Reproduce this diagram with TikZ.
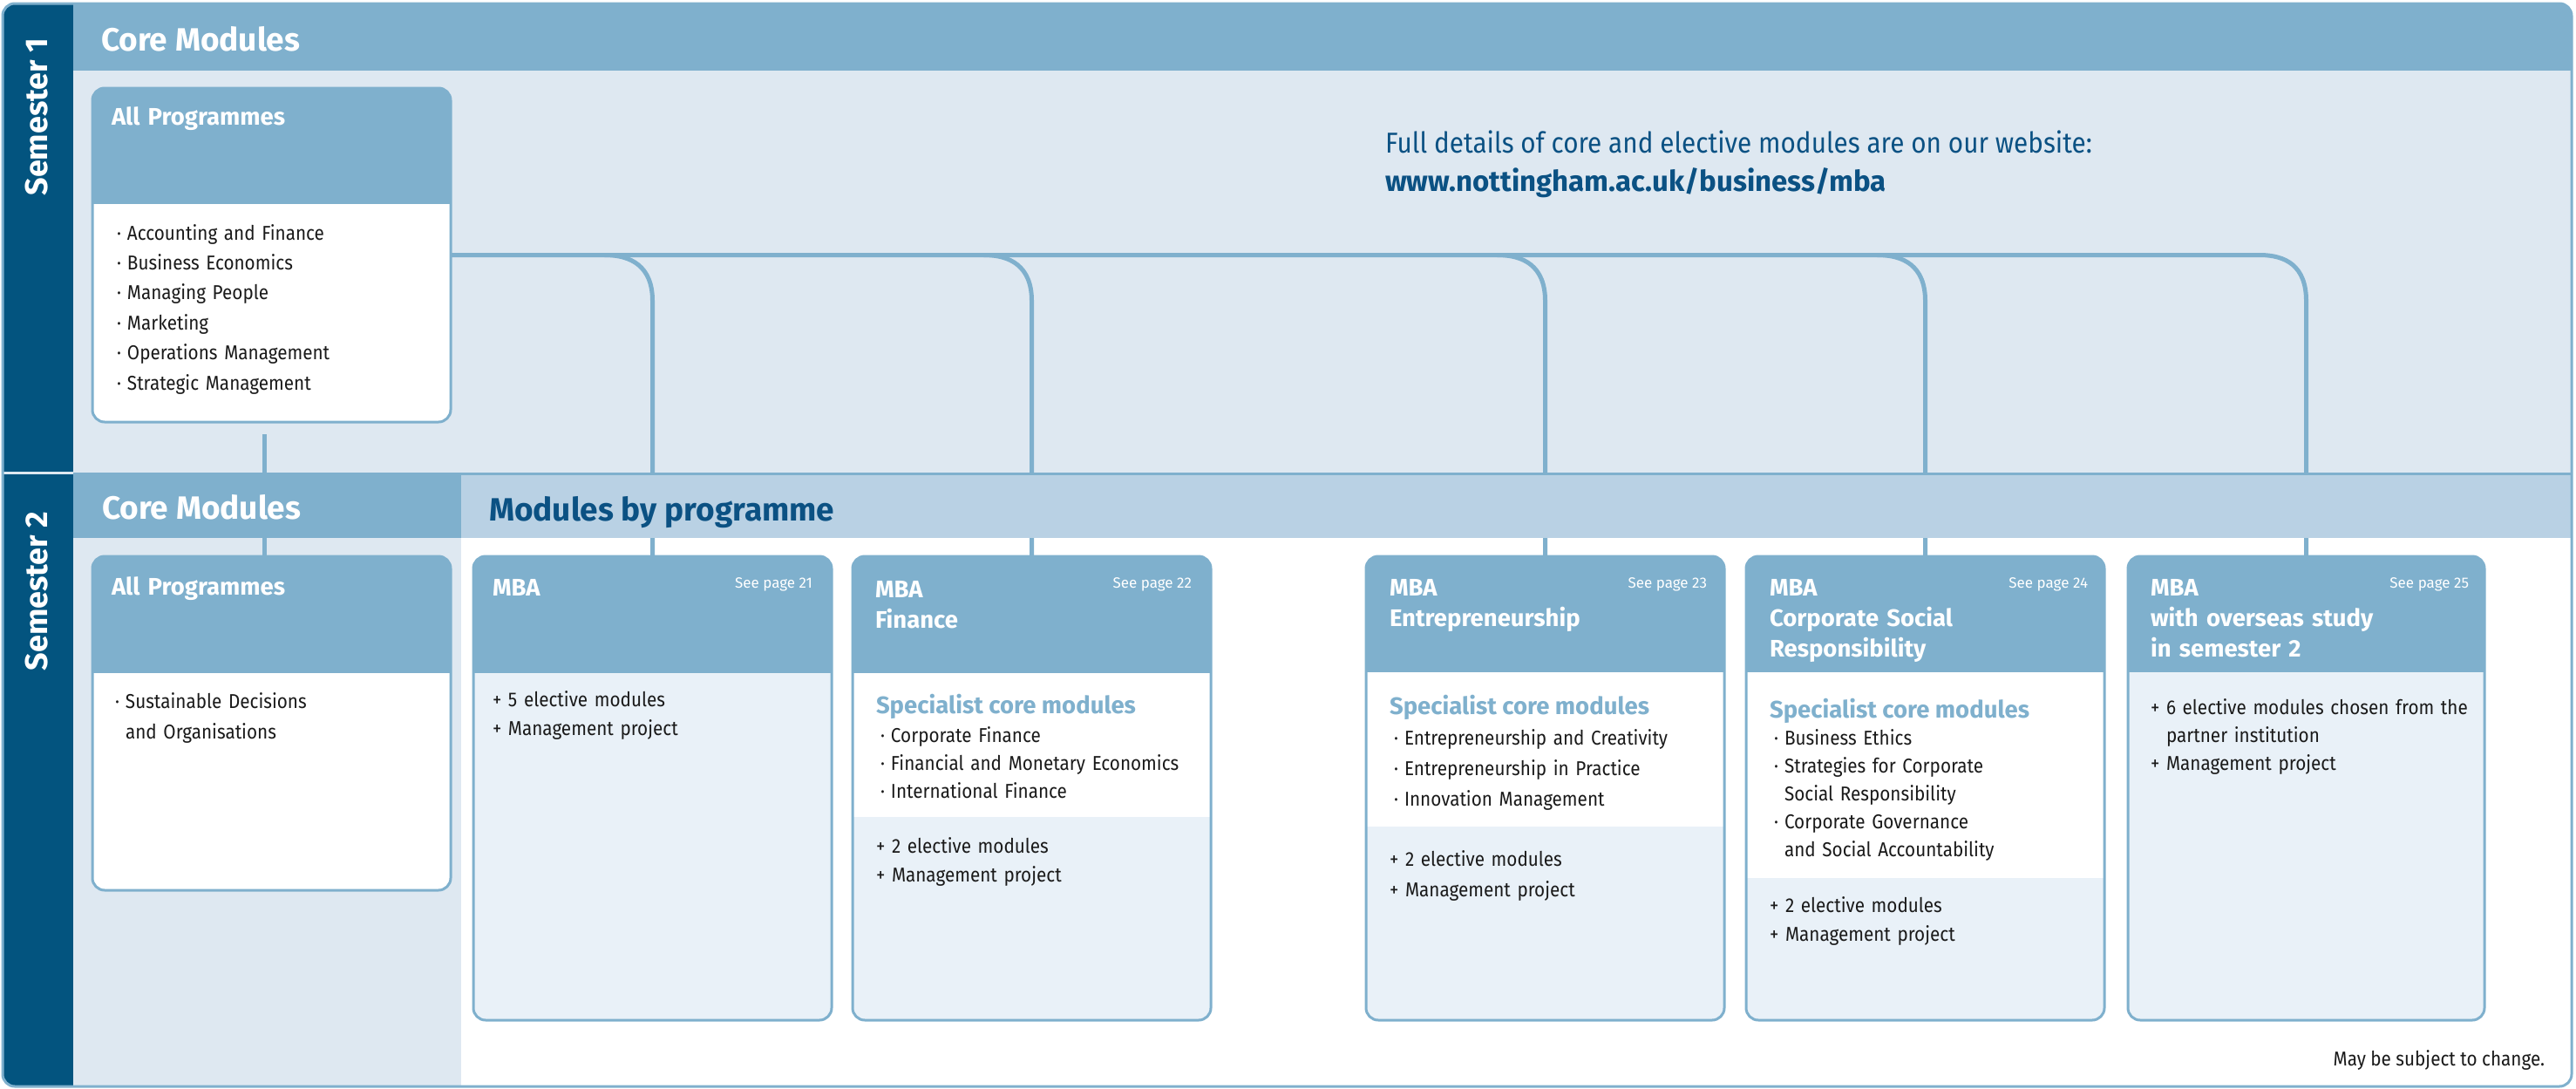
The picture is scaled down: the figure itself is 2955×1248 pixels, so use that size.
\documentclass[tikz,border=0pt]{standalone}
\usepackage{fontspec}
\setmainfont{Fira Sans}
\newfontfamily\regn{Fira Sans}[FakeStretch=0.9]
\usetikzlibrary{fit}
\definecolor{darkc}{HTML}{03547F}
\definecolor{midc}{HTML}{7FB0CD}
\definecolor{lightc}{HTML}{DEE8F1}
\definecolor{bandc}{HTML}{B9D1E4}
\definecolor{bodyc}{HTML}{E9F1F8}
\definecolor{navyc}{HTML}{0B5183}
\definecolor{txtc}{HTML}{1A1A1A}
\newcommand\bl{\makebox[12pt][l]{·}}
\newcommand\ind{\hspace*{12pt}}
\newcommand\pl{\makebox[18pt][l]{+}}
\newcommand\pbox[7]{%
  \begin{scope}
    \clip[rounded corners=14pt] (#2,#3) rectangle (#4,#5);
    \fill[bodyc] (#2,#3) rectangle (#4,#5);
    \fill[white] (#2,#6) rectangle (#4,#7);
    \fill[midc] (#2,#3) rectangle (#4,#6);
  \end{scope}
  \node[boxframe, fit={(#2,#3) (#4,#5)}] (#1) {};
}
\begin{document}
\begin{tikzpicture}[x=1pt, y=-1pt,
  every node/.style={inner sep=0pt, outer sep=0pt},
  boxframe/.style={draw=midc, line width=3pt, rounded corners=14pt},
  conn/.style={draw=midc, line width=5pt},
  body/.style={anchor=base west, align=left, text width=400pt, text=txtc, font=\regn\fontsize{23}{33}\selectfont},
  hd/.style={anchor=base west, align=left, text width=400pt, text=white, font=\bfseries\fontsize{27.5}{35}\selectfont},
  seep/.style={anchor=base east, text=white, font=\fontsize{17}{20}\selectfont},
  spec/.style={anchor=base west, text=midc, font=\bfseries\fontsize{27.5}{30}\selectfont},
  bandtxt/.style={anchor=base west, font=\bfseries\fontsize{37}{40}\selectfont},
  sem/.style={rotate=90, anchor=center, text=white, font=\bfseries\fontsize{36}{38}\selectfont}]
\useasboundingbox (0,0) rectangle (2955,1248);
% ---------- backgrounds ----------
\begin{scope}
  \clip[rounded corners=14pt] (3,4) rectangle (2950,1246);
  \fill[lightc] (84,81) rectangle (2950,543);
  \fill[midc] (84,0) rectangle (2950,81);
  \fill[white] (529,617) rectangle (2950,1246);
  \fill[lightc] (84,617) rectangle (529,1246);
\end{scope}
% ---------- boxes ----------
\pbox{sa}{106}{101}{517}{484}{234}{484}
\pbox{sb}{106}{638}{517}{1021}{772}{1021}
\pbox{mba}{543}{638}{954}{1170}{772}{772}
\pbox{fin}{978}{638}{1389}{1170}{772}{937}
\pbox{ent}{1567}{638}{1978}{1170}{771}{948}
\pbox{csr}{2003}{638}{2414}{1170}{771}{1007}
\pbox{ovs}{2441}{638}{2850}{1170}{771}{771}
% ---------- connectors ----------
\coordinate (tapA) at (303,498);
\draw[conn] (tapA) -- (sb.north -| tapA);
\draw[conn] (sa.east) -- (2592,292.5) .. controls (2622,292.5) and (2645.5,305) .. (2645.5,345) -- (ovs.north);
\foreach \b/\x in {mba/748.5, fin/1183.5, ent/1772.5, csr/2208.5}{
  \draw[conn] (\x-55,292.5) .. controls (\x-25,292.5) and (\x,305) .. (\x,345) -- (\b.north);
}
% ---------- semester 2 bands ----------
\fill[midc] (84,543) rectangle (529,617);
\fill[bandc] (529,543) rectangle (2950,617);
\draw[midc, line width=3pt] (84,543) -- (2950,543);
% ---------- left dark band ----------
\begin{scope}
  \clip[rounded corners=14pt] (3,4) rectangle (2950,1246);
  \fill[darkc] (0,0) rectangle (84,1248);
  \fill[lightc] (0,541) rectangle (84,544);
\end{scope}
\draw[midc, line width=3pt, rounded corners=14pt] (3,4) rectangle (2950,1246);
% ---------- texts ----------
\node[sem] (s1) at (42,134) {Semester 1};
\node[sem] (s2) at (42,678) {Semester 2};
\node[bandtxt, text=white] (h1) at (116,58) {Core Modules};
\node[bandtxt, text=white] (h2) at (117,595) {Core Modules};
\node[bandtxt, text=navyc] (h3) at (561,597) {Modules by programme};
\node[anchor=base west, text=navyc, font=\regn\fontsize{33}{36}\selectfont] (info) at (1589,175) {Full details of core and elective modules are on our website:};
\node[anchor=base west, text=navyc, font=\bfseries\fontsize{33}{36}\selectfont] (url) at (1589,219) {www.nottingham.ac.uk/business/mba};
% sem1 box
\node[hd] (saH) at (128,143) {All Programmes};
\node[body, font=\regn\fontsize{23}{34.4}\selectfont] (saB) at (134,275) {\bl Accounting and Finance\\\bl Business Economics\\\bl Managing People\\\bl Marketing\\\bl Operations Management\\\bl Strategic Management};
% sem2 all programmes
\node[hd] (sbH) at (128,682) {All Programmes};
\node[body, font=\regn\fontsize{23}{35}\selectfont] (sbB) at (132,812) {\bl Sustainable Decisions\\\ind and Organisations};
% MBA
\node[hd] (mbaH) at (565,683) {MBA};
\node[seep] (mbaP) at (932,674) {See page 21};
\node[body] (mbaB) at (565,810) {\pl 5 elective modules\\\pl Management project};
% Finance
\node[hd] (finH) at (1004,685) {MBA\\Finance};
\node[seep] (finP) at (1367,674) {See page 22};
\node[spec] (finS) at (1005,818) {Specialist core modules};
\node[body, font=\regn\fontsize{23}{32}\selectfont] (finB) at (1010,851) {\bl Corporate Finance\\\bl Financial and Monetary Economics\\\bl International Finance};
\node[body] (finE) at (1005,978) {\pl 2 elective modules\\\pl Management project};
% Entrepreneurship
\node[hd] (entH) at (1594,683) {MBA\\Entrepreneurship};
\node[seep] (entP) at (1958,674) {See page 23};
\node[spec] (entS) at (1594,819) {Specialist core modules};
\node[body, font=\regn\fontsize{23}{35}\selectfont] (entB) at (1599,854) {\bl Entrepreneurship and Creativity\\\bl Entrepreneurship in Practice\\\bl Innovation Management};
\node[body, font=\regn\fontsize{23}{35}\selectfont] (entE) at (1594,993) {\pl 2 elective modules\\\pl Management project};
% CSR
\node[hd] (csrH) at (2030,683) {MBA\\Corporate Social\\Responsibility};
\node[seep] (csrP) at (2395,674) {See page 24};
\node[spec] (csrS) at (2030,823) {Specialist core modules};
\node[body, font=\regn\fontsize{23}{32}\selectfont] (csrB) at (2035,854) {\bl Business Ethics\\\bl Strategies for Corporate\\\ind Social Responsibility\\\bl Corporate Governance\\\ind and Social Accountability};
\node[body] (csrE) at (2030,1046) {\pl 2 elective modules\\\pl Management project};
% Overseas
\node[hd] (ovsH) at (2467,683) {MBA\\with overseas study\\in semester 2};
\node[seep] (ovsP) at (2832,674) {See page 25};
\node[body, font=\regn\fontsize{23}{32}\selectfont] (ovsB) at (2467,819) {\pl 6 elective modules chosen from the\\\hspace*{18pt}partner institution\\\pl Management project};
\node[anchor=base east, text=txtc, font=\regn\fontsize{23}{26}\selectfont] (note) at (2919,1222) {May be subject to change.};
\end{tikzpicture}
\end{document}
